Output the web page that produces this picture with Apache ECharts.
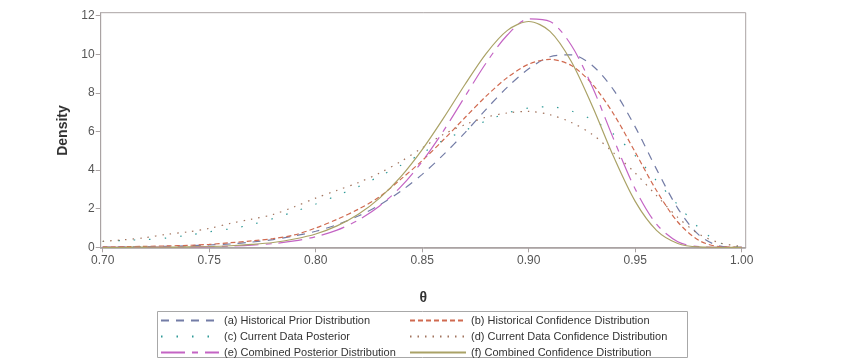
<!DOCTYPE html>
<html>
<head>
    <meta charset="utf-8">
    <title>Density</title>
    <script src="https://cdn.jsdelivr.net/npm/echarts@6/dist/echarts.min.js"></script>
    <style>
        html, body { margin: 0; padding: 0; background: #fff; }
        #main { width: 856px; height: 359px; }
    </style>
</head>
<body>
<div id="main"></div>
<script type="text/javascript">
    // theta grid
    var theta = [0.70, 0.71, 0.72, 0.73, 0.74, 0.75, 0.76, 0.77, 0.78, 0.79,
        0.80, 0.81, 0.82, 0.83, 0.84, 0.85, 0.86, 0.87, 0.88, 0.89,
        0.90, 0.91, 0.92, 0.93, 0.94, 0.95, 0.96, 0.97, 0.98, 0.99, 1.00];

    // (a) historical prior
    var histPrior = [0.01, 0.02, 0.03, 0.05, 0.08, 0.12, 0.18, 0.27, 0.40, 0.59,
        0.83, 1.17, 1.62, 2.19, 2.91, 3.78, 4.80, 5.93, 7.15, 8.30,
        9.25, 9.87, 9.97, 9.41, 8.13, 6.24, 4.05, 2.02, 0.63, 0.06, 0.00];
    // (b) historical confidence
    var histConf = [0.02, 0.03, 0.05, 0.07, 0.10, 0.15, 0.24, 0.33, 0.45, 0.64,
        1.00, 1.45, 1.97, 2.62, 3.53, 4.49, 5.57, 6.71, 7.83, 8.80,
        9.49, 9.74, 9.42, 8.44, 6.88, 4.93, 2.94, 1.31, 0.35, 0.03, 0.00];
    // (c) current data posterior
    var curPost = [0.30, 0.36, 0.40, 0.48, 0.63, 0.80, 0.96, 1.18, 1.49, 1.85,
        2.24, 2.68, 3.14, 3.68, 4.25, 4.88, 5.55, 6.05, 6.55, 6.96,
        7.22, 7.28, 7.06, 6.60, 5.85, 4.75, 3.45, 2.20, 1.00, 0.22, 0.00];
    // (d) current data confidence
    var curConf = [0.31, 0.39, 0.50, 0.67, 0.80, 0.98, 1.24, 1.46, 1.70, 2.10,
        2.55, 2.95, 3.35, 3.85, 4.45, 5.15, 5.85, 6.35, 6.74, 6.96,
        7.04, 6.87, 6.47, 5.84, 4.88, 3.85, 2.68, 1.55, 0.68, 0.22, 0.05];
    // (e) combined posterior
    var combPost = [0.00, 0.00, 0.00, 0.01, 0.02, 0.03, 0.06, 0.11, 0.19, 0.33,
        0.55, 0.89, 1.41, 2.14, 3.14, 4.45, 6.03, 7.80, 9.55, 11.00,
        11.83, 11.70, 10.47, 8.28, 5.57, 3.02, 1.20, 0.29, 0.03, 0.00, 0.00];
    // (f) combined confidence
    var combConf = [0.00, 0.00, 0.01, 0.01, 0.02, 0.04, 0.08, 0.15, 0.25, 0.43,
        0.69, 1.11, 1.71, 2.55, 3.66, 5.06, 6.69, 8.42, 10.04, 11.24,
        11.70, 11.19, 9.63, 7.28, 4.66, 2.38, 0.88, 0.20, 0.02, 0.00, 0.00];

    var names = ['(a) Historical Prior Distribution', '(b) Historical Confidence Distribution',
        '(c) Current Data Posterior', '(d) Current Data Confidence Distribution',
        '(e) Combined Posterior Distribution', '(f) Combined Confidence Distribution'];

    var xTicks = [0.70, 0.75, 0.80, 0.85, 0.90, 0.95, 1.00];
    var yTicks = [0, 2, 4, 6, 8, 10, 12];

    function pairs(ys) {
        return theta.map(function (t, i) { return [t, ys[i]]; });
    }

    function line(name, ys, color, dash) {
        return {
            name: name,
            type: 'line',
            data: pairs(ys),
            smooth: 0.3,
            symbol: 'none',
            lineStyle: {color: color, width: 1.2, type: dash},
            itemStyle: {color: color}
        };
    }

    var frameColor = '#aaa3a3';
    var font = 'Arial, "Liberation Sans", sans-serif';

    var legendBase = {
        orient: 'vertical', top: 315, padding: 0, height: 44,
        itemHeight: 10, itemGap: 5,
        itemStyle: {opacity: 0},
        textStyle: {fontSize: 11, color: '#333', fontFamily: font}
    };

    var myChart = echarts.init(document.getElementById('main'));
    var option = {
        animation: false,
        grid: {
            left: 100.7, right: 110.3, top: 12.7, bottom: 110.7,
            show: true, borderColor: frameColor, borderWidth: 1
        },
        xAxis: {
            type: 'value',
            min: 0.69906, max: 1.00188,
            name: 'θ', nameLocation: 'middle', nameGap: 43,
            nameTextStyle: {fontSize: 14, fontWeight: 'bold', color: '#333', fontFamily: font},
            axisLine: {lineStyle: {color: frameColor}},
            axisTick: {customValues: xTicks, length: 5, lineStyle: {color: frameColor}},
            axisLabel: {
                customValues: xTicks, color: '#555', fontSize: 12, fontFamily: font, margin: 6,
                formatter: function (v) { return v.toFixed(2); }
            },
            splitLine: {show: false}
        },
        yAxis: {
            type: 'value',
            min: -0.052, max: 12.155,
            name: 'Density', nameLocation: 'middle', nameGap: 30,
            nameTextStyle: {fontSize: 14, fontWeight: 'bold', color: '#333', fontFamily: font},
            axisLine: {show: true, lineStyle: {color: frameColor}},
            axisTick: {show: true, customValues: yTicks, length: 5, lineStyle: {color: frameColor}},
            axisLabel: {customValues: yTicks, color: '#555', fontSize: 12, fontFamily: font, margin: 6},
            splitLine: {show: false}
        },
        legend: [
            Object.assign({}, legendBase, {data: [names[0], names[2], names[4]], left: 160, itemWidth: 58}),
            Object.assign({}, legendBase, {data: [names[1], names[3], names[5]], left: 409, itemWidth: 56})
        ],
        graphic: [{
            type: 'rect',
            shape: {x: 157.5, y: 311.5, width: 530, height: 46},
            style: {fill: 'none', stroke: '#a8a8a8', lineWidth: 1},
            silent: true
        }],
        series: [
            line(names[0], histPrior, '#737ca6', [8, 7]),
            line(names[1], histConf, '#d06a50', [5, 3]),
            line(names[2], curPost, '#2f9a98', [1.5, 14]),
            line(names[3], curConf, '#a2745e', [1.5, 6]),
            line(names[4], combPost, '#c464c4', [24, 7, 6, 7]),
            line(names[5], combConf, '#aaa266', 'solid')
        ]
    };
    myChart.setOption(option);
</script>
</body>
</html>
